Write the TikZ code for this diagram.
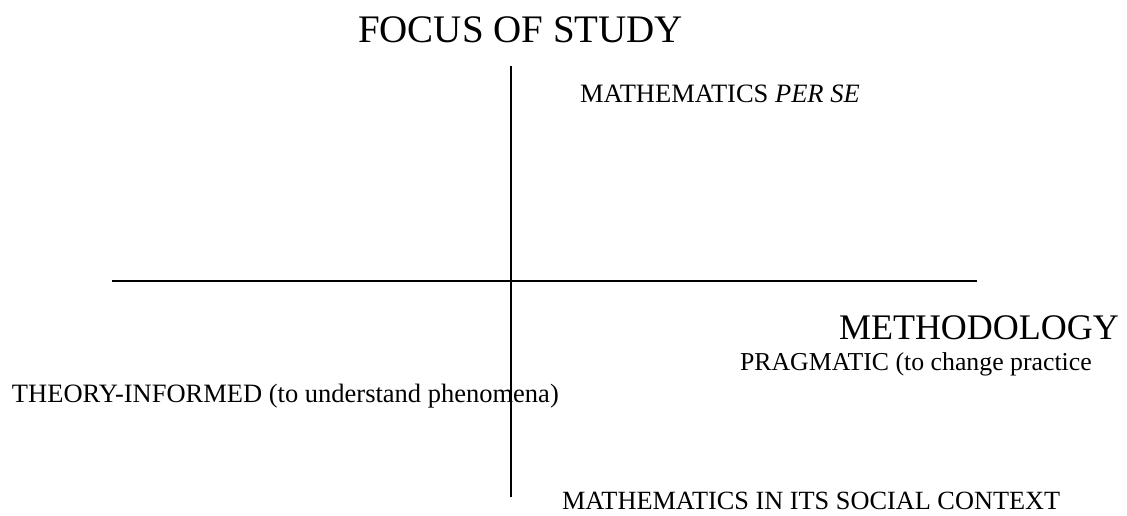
\documentclass[tikz,border=0pt]{standalone}
\usepackage{fontspec}
\setmainfont{Liberation Serif}
\begin{document}
\begin{tikzpicture}[x=1pt,y=-1pt,
  lbl/.style={anchor=base west,inner sep=0pt,outer sep=0pt},
  axis/.style={line width=1.6pt}]
\useasboundingbox (0,0) rectangle (1127,516);
\coordinate (vt) at (511,66);
\coordinate (vb) at (511,497);
\coordinate (hl) at (112,281);
\coordinate (hr) at (977,281);
\draw[axis] (vt) -- (vb);
\draw[axis] (hl) -- (hr);
\node[lbl,font=\fontsize{39}{42}\selectfont] (focus) at (358,43) {FOCUS OF STUDY};
\node[lbl,font=\fontsize{26.5}{28}\selectfont] (perse) at (580,103) {MATHEMATICS \textit{PER SE}};
\node[lbl,font=\fontsize{36}{40}\selectfont] (method) at (839,339) {METHODOLOGY};
\node[lbl,font=\fontsize{26.5}{28}\selectfont] (theory) at (12,402) {THEORY-INFORMED (to understand phenomena)};
\node[lbl,font=\fontsize{25.8}{28}\selectfont] (prag) at (740,370) {PRAGMATIC (to change practice};
\node[lbl,font=\fontsize{26.3}{28}\selectfont] (social) at (562,509) {MATHEMATICS IN ITS SOCIAL CONTEXT};
\end{tikzpicture}
\end{document}
